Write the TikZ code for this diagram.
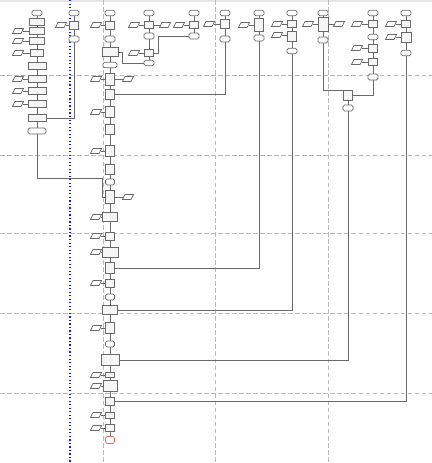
\documentclass[tikz,border=0pt]{standalone}
\usepackage{xcolor}
\usetikzlibrary{positioning,shapes.geometric,calc}
\definecolor{lineclr}{RGB}{105,105,105}
\definecolor{laneclr}{RGB}{185,185,185}
\definecolor{boxfill}{RGB}{246,246,246}
\definecolor{blueclr}{RGB}{20,20,230}
\definecolor{endclr}{RGB}{215,120,110}
\tikzset{
  term/.style={draw=lineclr,fill=white,line width=0.6pt,rounded corners=1.3pt,
               minimum width=3mm,minimum height=1.6mm,inner sep=0pt},
  proc/.style={draw=lineclr,fill=boxfill,line width=0.7pt,
               minimum width=2.7mm,minimum height=1.9mm,inner sep=0pt},
  inpt/.style={trapezium,trapezium left angle=68,trapezium right angle=112,
               trapezium stretches=true,draw=lineclr,fill=white,line width=0.6pt,
               minimum width=3.3mm,minimum height=1.5mm,inner sep=0.5pt},
  flow/.style={draw=lineclr,line width=0.7pt},
  lane/.style={laneclr,dashed,line width=0.6pt,dash pattern=on 4pt off 2pt},
}
\begin{document}
\begin{tikzpicture}[x=0.03cm, y=-0.03cm]
\useasboundingbox (0,0) rectangle (432,463);
\fill[gray!20] (0,0) rectangle (432,1.5);

% Lanes
\foreach \y in {75,155,233,313,393}
  \draw[lane] (0,\y) -- (432,\y);
\foreach \x in {103,215,328}
  \draw[lane] (\x,0) -- (\x,463);
\draw[blueclr,dotted,line width=1pt] (70,0) -- (70,463);

% Column A
\node[term] (aS) at (37,13) {};
\node[proc,minimum width=4.5mm] (a1) at (37,22) {};
\node[proc,minimum width=4.5mm] (a2) at (37,31) {};
\node[proc,minimum width=4.5mm] (a3) at (37,41) {};
\node[proc,minimum width=4mm] (a4) at (37,53) {};
\node[proc,minimum width=5.4mm,minimum height=2.1mm] (a5) at (37,66) {};
\node[proc,minimum width=5.4mm,minimum height=2.1mm] (a6) at (37,79) {};
\node[proc,minimum width=5.4mm,minimum height=2.1mm] (a7) at (37,91) {};
\node[proc,minimum width=5.4mm,minimum height=2.1mm] (a8) at (37,104) {};
\node[proc,minimum width=5.4mm,minimum height=2.1mm] (a9) at (37,118) {};
\node[term,minimum width=5.4mm,minimum height=1.8mm] (aE) at (37,131) {};
\node[inpt] (ai2) at (18,31) {};
\node[inpt] (ai3) at (18,41) {};
\node[inpt] (ai4) at (18,53) {};
\node[inpt] (ai6) at (18,79) {};
\node[inpt] (ai7) at (18,91) {};
\node[inpt] (ai8) at (18,104) {};
\draw[flow] (aS) -- (a1) -- (a2) -- (a3) -- (a4) -- (a5) -- (a6) -- (a7) -- (a8) -- (a9) -- (aE);
\foreach \i in {2,3,4,6,7,8}
  \draw[flow] (ai\i) -- (a\i);

% Column B
\node[term] (bS) at (74,13) {};
\node[proc,minimum height=2.4mm] (b1) at (74,25) {};
\node[term,minimum height=1.8mm] (bE) at (74,39) {};
\node[inpt] (bi1) at (61,25) {};
\draw[flow] (bS) -- (b1) -- (bE);
\draw[flow] (bi1) -- (b1);
\draw[flow] (a9.east) -| (bE.south);

% Main column
\node[term] (mS) at (110,13) {};
\node[proc,minimum height=2.4mm] (m1) at (110,25) {};
\node[term,minimum height=1.8mm] (mE1) at (110,39) {};
\node[proc,minimum width=4.8mm,minimum height=2.7mm] (m2) at (110,52) {};
\node[term,minimum width=4.2mm] (mE2) at (110,65) {};
\node[proc,minimum height=3.6mm] (m3) at (110,79) {};
\node[proc,minimum height=3mm] (m4) at (110,94) {};
\node[proc,minimum height=3.3mm] (m5) at (110,112) {};
\node[proc,minimum height=3mm] (m6) at (110,129) {};
\node[proc,minimum height=3.3mm] (m7) at (110,151) {};
\node[proc,minimum height=3mm] (m8) at (110,169) {};
\node[term,minimum width=2.7mm,minimum height=1.8mm] (mE3) at (110,182) {};
\node[proc,minimum height=3.9mm] (m9) at (110,197) {};
\node[proc,minimum width=4.5mm,minimum height=2.7mm] (m10) at (110,217) {};
\node[proc,minimum height=2.4mm] (m11) at (110,236) {};
\node[proc,minimum width=4.8mm,minimum height=3mm] (m12) at (110,252) {};
\node[proc,minimum height=3.3mm] (m13) at (110,268) {};
\node[proc,minimum height=2.4mm] (m14) at (110,283) {};
\node[term,minimum width=2.7mm,minimum height=1.8mm] (mE4) at (110,297) {};
\node[proc,minimum width=4.5mm,minimum height=2.7mm] (m15) at (110,310) {};
\node[proc,minimum height=3.3mm] (m16) at (110,328) {};
\node[term,minimum width=2.7mm,minimum height=1.8mm] (mE5) at (110,344) {};
\node[proc,minimum width=5.4mm,minimum height=3.3mm] (m17) at (110,360) {};
\node[proc,minimum height=1.6mm] (m18) at (110,375) {};
\node[proc,minimum width=4.2mm,minimum height=3.3mm] (m19) at (110,386) {};
\node[proc,minimum height=2.4mm] (m20) at (110,401) {};
\node[proc,minimum height=1.8mm] (m21) at (110,415) {};
\node[proc,minimum height=2.1mm] (m22) at (110,428) {};
\node[term,draw=endclr,minimum width=2.7mm,minimum height=2.1mm] (mEnd) at (110,440) {};
\draw[flow] (mS) -- (m1) -- (mE1) -- (m2) -- (mE2) -- (m3) -- (m4) -- (m5) -- (m6) -- (m7) -- (m8) -- (mE3) -- (m9)
  -- (m10) -- (m11) -- (m12) -- (m13) -- (m14) -- (mE4) -- (m15) -- (m16) -- (mE5) -- (m17) -- (m18) -- (m19)
  -- (m20) -- (m21) -- (m22) -- (mEnd);
\foreach \i/\y in {1/25,3/79,5/112,7/151,10/217,11/236,12/252,14/283,16/328,18/375,19/386,21/415,22/428} {
  \node[inpt] (mi\i) at (96,\y) {};
  \draw[flow] (mi\i) -- (m\i);
}
\node[inpt] (mr3) at (128,79) {};
\node[inpt] (mr9) at (128,197) {};
\draw[flow] (m3) -- (mr3);
\draw[flow] (m9) -- (mr9);
\coordinate (jA) at (102,178);
\draw[flow] (aE.south) |- (jA) |- (m9.west);

% Column C
\node[term] (cS) at (149,13) {};
\node[proc] (c1) at (149,25) {};
\node[term,minimum height=1.8mm] (cE1) at (149,36) {};
\node[proc] (c2) at (149,53) {};
\node[term] (cE2) at (149,63) {};
\node[inpt] (ci1) at (134,25) {};
\node[inpt] (cr1) at (165,25) {};
\node[inpt] (ci2) at (134,53) {};
\draw[flow] (cS) -- (c1) -- (cE1) -- (c2) -- (cE2);
\draw[flow] (ci1) -- (c1) -- (cr1);
\draw[flow] (ci2) -- (c2);
\draw[flow] (m2.east) -- ++(4,0) |- (cE2.west);

% Column D
\node[term] (dS) at (194,13) {};
\node[proc] (d1) at (194,25) {};
\node[term,minimum height=1.8mm] (dE) at (194,36) {};
\node[inpt] (di1) at (179,25) {};
\draw[flow] (dS) -- (d1) -- (dE);
\draw[flow] (di1) -- (d1);
\coordinate (jD) at (158,53);
\draw[flow] (dE.west) -| (jD) -- (c2.east);

% Column E
\node[term] (eS) at (225,13) {};
\node[proc,minimum height=2.7mm] (e1) at (225,24) {};
\node[term,minimum height=1.8mm] (eE) at (225,39) {};
\node[inpt] (ei1) at (209,24) {};
\draw[flow] (eS) -- (e1) -- (eE);
\draw[flow] (ei1) -- (e1);
\draw[flow] (eE.south) |- (m4.east);

% Column F
\node[term] (fS) at (259,13) {};
\node[proc,minimum height=3.9mm] (f1) at (259,25) {};
\node[term,minimum height=1.8mm] (fE) at (259,38) {};
\node[inpt] (fi1) at (244,25) {};
\draw[flow] (fS) -- (f1) -- (fE);
\draw[flow] (fi1) -- (f1);
\draw[flow] (fE.south) |- (m13.east);

% Column G
\node[term] (gS) at (292,13) {};
\node[proc] (g1) at (292,24) {};
\node[proc,minimum height=3mm] (g2) at (292,36) {};
\node[term] (gE) at (292,51) {};
\node[inpt] (gi1) at (277,24) {};
\node[inpt] (gi2) at (277,35) {};
\draw[flow] (gS) -- (g1) -- (g2) -- (gE);
\draw[flow] (gi1) -- (g1);
\draw[flow] (gi2) -- (g2);
\draw[flow] (gE.south) |- (m15.east);

% Column H
\node[term] (hS) at (323,13) {};
\node[proc,minimum width=3mm,minimum height=4.2mm] (h1) at (323,24) {};
\node[term,minimum height=1.8mm] (hE) at (323,40) {};
\node[inpt] (hi1) at (308,24) {};
\node[inpt] (hr1) at (339,24) {};
\draw[flow] (hS) -- (h1) -- (hE);
\draw[flow] (hi1) -- (h1) -- (hr1);

% Column I
\node[term] (iS) at (373,13) {};
\node[proc] (i1) at (373,24) {};
\node[term] (iE1) at (373,37) {};
\node[proc,minimum height=2.4mm] (i2) at (373,48) {};
\node[proc] (i3) at (373,62) {};
\node[term,minimum height=1.8mm] (iE2) at (373,77) {};
\node[inpt] (ii1) at (357,24) {};
\node[inpt] (ii2) at (357,48) {};
\node[inpt] (ii3) at (357,62) {};
\draw[flow] (iS) -- (i1) -- (iE1) -- (i2) -- (i3) -- (iE2);
\draw[flow] (ii1) -- (i1);
\draw[flow] (ii2) -- (i2);
\draw[flow] (ii3) -- (i3);

% Merge of H and I
\node[proc,minimum height=3mm] (k1) at (348,95) {};
\node[term,minimum height=1.8mm] (kE) at (348,108) {};
\draw[flow] (k1) -- (kE);
\draw[flow] (hE.south) -- ++(0,47) -| (k1.north);
\draw[flow] (iE2.south) |- (k1.east);
\draw[flow] (kE.south) |- (m17.east);

% Column J
\node[term] (jS) at (406,13) {};
\node[proc] (j1) at (406,24) {};
\node[proc,minimum width=3mm,minimum height=3mm] (j2) at (406,37) {};
\node[term] (jE) at (406,53) {};
\node[inpt] (ji1) at (391,24) {};
\node[inpt] (ji2) at (391,37) {};
\draw[flow] (jS) -- (j1) -- (j2) -- (jE);
\draw[flow] (ji1) -- (j1);
\draw[flow] (ji2) -- (j2);
\draw[flow] (jE.south) |- (m20.east);
\end{tikzpicture}
\end{document}
